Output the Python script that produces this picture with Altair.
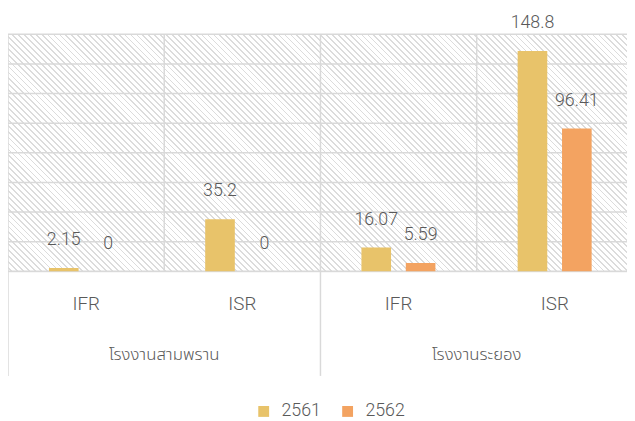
import altair as alt
import pandas as pd

# ---- data ----
plants = ["โรงงานสามพราน", "โรงงานสามพราน", "โรงงานระยอง", "โรงงานระยอง"]
metrics = ["IFR", "ISR", "IFR", "ISR"]
years = ["2561", "2562"]
values_2561 = [2.15, 35.2, 16.07, 148.8]
values_2562 = [0, 0, 5.59, 96.41]
grid_values = [0, 20, 40, 60, 80, 100, 120, 140, 160]
colors = ["#E8C36A", "#F3A361"]

THAI = "Noto Sans Thai, Noto Sans, sans-serif"
LAT = "Roboto, Noto Sans Thai, sans-serif"
TXT = "#595959"
GRID = "#d9d9d9"

# ---- layout constants ----
W, H = 627, 240
BAND_PX = 158.25                # pixel width of one category band (last band runs off the edge)
YEAR_POS = [0.357, 0.641]       # centre of each year's bar inside a band (fraction of band)
BAR_PX = 30

rows = []
for i, (p, m, a, b) in enumerate(zip(plants, metrics, values_2561, values_2562)):
    for j, v in enumerate([a, b]):
        rows.append(dict(i=i, plant=p, metric=m, year=years[j], value=v, xpos=i + YEAR_POS[j]))
df = pd.DataFrame(rows)

cat_df = pd.DataFrame({"i": list(range(len(metrics))), "metric": metrics, "plant": plants})
cat_df["mid"] = cat_df["i"] + 0.5

sep_idx = [i for i in range(len(plants)) if i == 0 or plants[i] != plants[i - 1]]
sep_df = pd.DataFrame({"i": sep_idx})
grp_rows = [dict(i=i, plant=plants[i]) for i in range(1, len(plants)) if plants[i] == plants[i - 1]]
grp_df = pd.DataFrame(grp_rows)

x_scale = alt.Scale(domain=[0, W / BAND_PX], nice=False, zero=False, padding=0)
y_scale = alt.Scale(domain=[0, 160], nice=False)

# ---- hatch background (diagonal stripes via a linear gradient) ----
period = 6.0
span = W + H
k = span / (W ** 2 + H ** 2)
f = 0.3
stops = []
n = int(span // period) + 2
for s in range(n):
    t0 = s * period / span
    t1 = (s * period + period * (1 - f)) / span
    t2 = (s + 1) * period / span
    for off, col in [(t0, "#ffffff"), (t1, "#ffffff"), (t1, "#dcdcdc"), (t2, "#dcdcdc")]:
        if off <= 1:
            stops.append({"offset": round(off, 6), "color": col})
gradient = {"gradient": "linear", "x1": 1, "y1": 0, "x2": 1 - k * W, "y2": k * H, "stops": stops}

hatch = alt.Chart(alt.Data(values=[{}])).mark_rect(fill=gradient, stroke=None).encode(
    x=alt.value(0), x2=alt.value("width"), y=alt.value(0), y2=alt.value("height")
)

hgrid = alt.Chart(pd.DataFrame({"g": grid_values})).mark_rule(color=GRID, strokeWidth=1.5).encode(
    y=alt.Y("g:Q", scale=y_scale, axis=None)
)

vgrid = alt.Chart(cat_df).mark_rule(color=GRID, strokeWidth=1.5).encode(
    x=alt.X("i:Q", scale=x_scale, axis=None),
    y=alt.value(0), y2=alt.value("height"),
)

sep = alt.Chart(sep_df).mark_rule(color=GRID, strokeWidth=1.5).encode(
    x=alt.X("i:Q", scale=x_scale, axis=None),
    y=alt.value(H), y2=alt.value(346),
)

bars = alt.Chart(df).mark_bar(size=BAR_PX, orient="vertical").encode(
    x=alt.X("xpos:Q", scale=x_scale, axis=None),
    y=alt.Y("value:Q", scale=y_scale, axis=None),
    color=alt.Color(
        "year:N",
        scale=alt.Scale(domain=years, range=colors),
        legend=alt.Legend(
            title=None, orient="none", legendX=250, legendY=373, direction="horizontal",
            symbolType="square", symbolSize=121, symbolStrokeWidth=0, labelFontSize=18,
            labelColor=TXT, labelFont=LAT, labelFontWeight=300, columnPadding=18,
            labelOffset=9, padding=0,
        ),
    ),
)

vlabels = alt.Chart(df).mark_text(
    dy=-28, baseline="middle", fontSize=18, color=TXT, font=LAT, fontWeight=300
).encode(
    x=alt.X("xpos:Q", scale=x_scale, axis=None),
    y=alt.Y("value:Q", scale=y_scale, axis=None),
    text=alt.Text("value:Q"),
)

mlabels = alt.Chart(cat_df).mark_text(
    baseline="middle", fontSize=19, color=TXT, font=LAT, fontWeight=300
).encode(
    x=alt.X("mid:Q", scale=x_scale, axis=None),
    y=alt.value(273),
    text="metric:N",
)

glabels = alt.Chart(grp_df).mark_text(
    baseline="middle", fontSize=17, color=TXT, font=THAI, fontWeight=300
).encode(
    x=alt.X("i:Q", scale=x_scale, axis=None),
    y=alt.value(325),
    text="plant:N",
)

chart = alt.layer(hatch, hgrid, vgrid, sep, bars, vlabels, mlabels, glabels).properties(
    width=W, height=H,
    autosize=alt.AutoSizeParams(type="none"),
    padding={"left": 0, "top": 24, "right": 0, "bottom": 149},
).configure_view(stroke=None).configure(font=THAI)

chart.save("out.html", embed_options={"renderer": "svg", "actions": False})
